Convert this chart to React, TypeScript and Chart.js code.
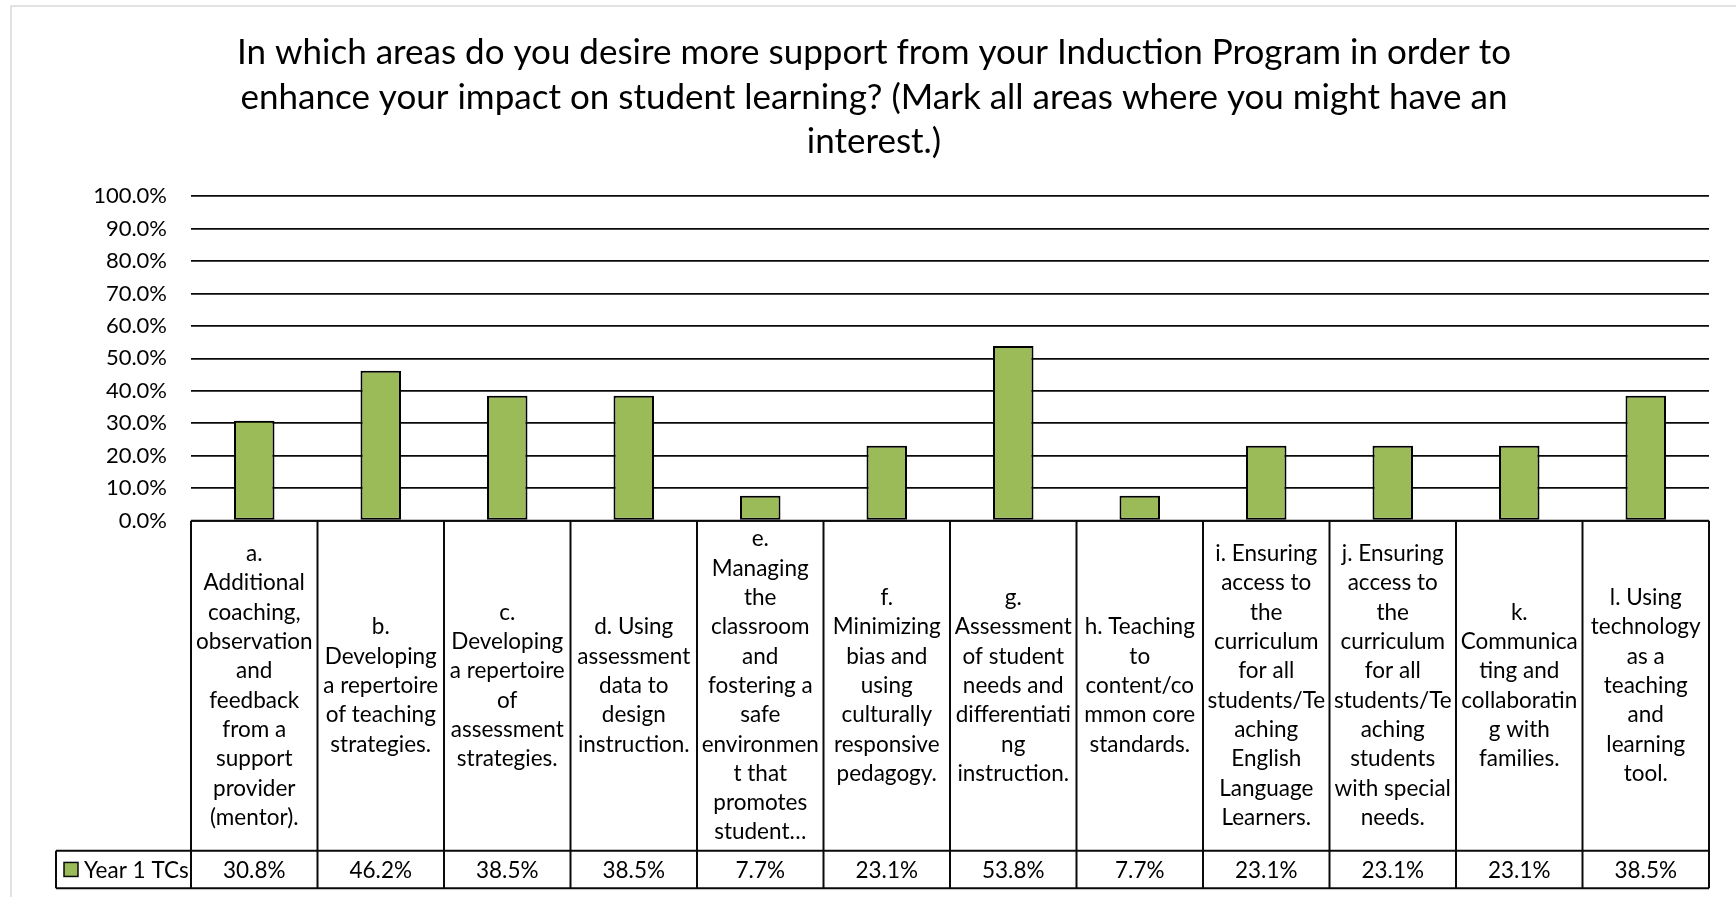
import React, { useEffect, useRef } from "react";
import { Chart, registerables } from "chart.js";

Chart.register(...registerables);

const TITLE_LINES = [
  "In which areas do you desire more support from your Induction Program in order to",
  "enhance your impact on student learning? (Mark all areas where you might have an",
  "interest.)",
];

const CATEGORY_LINES: string[][] = [
  ["a.", "Additional", "coaching,", "observation", "and", "feedback", "from a", "support", "provider", "(mentor)."],
  ["b.", "Developing", "a repertoire", "of teaching", "strategies."],
  ["c.", "Developing", "a repertoire", "of", "assessment", "strategies."],
  ["d. Using", "assessment", "data to", "design", "instruction."],
  ["e.", "Managing", "the", "classroom", "and", "fostering a", "safe", "environmen", "t that", "promotes", "student…"],
  ["f.", "Minimizing", "bias and", "using", "culturally", "responsive", "pedagogy."],
  ["g.", "Assessment", "of student", "needs and", "differentiati", "ng", "instruction."],
  ["h. Teaching", "to", "content/co", "mmon core", "standards."],
  ["i. Ensuring", "access to", "the", "curriculum", "for all", "students/Te", "aching", "English", "Language", "Learners."],
  ["j. Ensuring", "access to", "the", "curriculum", "for all", "students/Te", "aching", "students", "with special", "needs."],
  ["k.", "Communica", "ting and", "collaboratin", "g with", "families."],
  ["l. Using", "technology", "as a", "teaching", "and", "learning", "tool."],
];

const SERIES_NAME = "Year 1 TCs";
const SERIES_VALUES = [30.8, 46.2, 38.5, 38.5, 7.7, 23.1, 53.8, 7.7, 23.1, 23.1, 23.1, 38.5];

const Y_MIN = 0;
const Y_MAX = 100;
const Y_STEP = 10;

const W = 1736;
const H = 897;
const FONT = "Lato, 'Open Sans', sans-serif";
const BAR_COLOR = "#9BBB59";
const LINE_COLOR = "#0a0a0a";

const LABEL_ROW_H = 330;
const SERIES_ROW_H = 37.5;
const LEGEND_LEFT = 56;
const LABEL_LINE_H = 29.3;
const LABEL_FONT = `22.5px ${FONT}`;
const TITLE_FONT = `35px ${FONT}`;

const fmt = (v: number) => `${v.toFixed(1)}%`;

const tablePlugin = {
  id: "dataTable",
  beforeDraw(chart: any) {
    const ctx = chart.ctx;
    ctx.save();
    ctx.fillStyle = "#ffffff";
    ctx.fillRect(0, 0, W, H);
    ctx.strokeStyle = "#d9d9d9";
    ctx.lineWidth = 1.5;
    ctx.strokeRect(11, 6, W + 20, H + 20);
    // title
    ctx.fillStyle = "#000000";
    ctx.font = TITLE_FONT;
    ctx.textAlign = "center";
    ctx.textBaseline = "middle";
    TITLE_LINES.forEach((line, i) => ctx.fillText(line, 874, 53 + i * 44.5));
    ctx.restore();
  },
  afterDraw(chart: any) {
    const { ctx, chartArea } = chart;
    const xs = chart.scales.x;
    const n = CATEGORY_LINES.length;
    const step = xs.getPixelForValue(1) - xs.getPixelForValue(0);
    const top = chartArea.bottom;
    const rowMid = top + LABEL_ROW_H;
    const bottom = rowMid + SERIES_ROW_H;
    const left = xs.getPixelForValue(0) - step / 2;
    const right = xs.getPixelForValue(n - 1) + step / 2;

    ctx.save();
    ctx.strokeStyle = LINE_COLOR;
    ctx.lineWidth = 2;
    ctx.beginPath();
    for (let i = 0; i <= n; i++) {
      const x = left + i * step;
      ctx.moveTo(x, top);
      ctx.lineTo(x, bottom);
    }
    ctx.moveTo(LEGEND_LEFT, rowMid);
    ctx.lineTo(right, rowMid);
    ctx.moveTo(LEGEND_LEFT, bottom);
    ctx.lineTo(right, bottom);
    ctx.moveTo(LEGEND_LEFT, rowMid);
    ctx.lineTo(LEGEND_LEFT, bottom);
    ctx.moveTo(left, top);
    ctx.lineTo(right, top);
    ctx.stroke();

    ctx.fillStyle = "#000000";
    ctx.font = LABEL_FONT;
    ctx.textAlign = "center";
    ctx.textBaseline = "middle";
    const labelMid = top + LABEL_ROW_H / 2;
    CATEGORY_LINES.forEach((lines, i) => {
      const cx = xs.getPixelForValue(i);
      const y0 = labelMid - ((lines.length - 1) / 2) * LABEL_LINE_H;
      lines.forEach((ln, j) => ctx.fillText(ln, cx, y0 + j * LABEL_LINE_H));
    });

    const valMid = rowMid + SERIES_ROW_H / 2;
    SERIES_VALUES.forEach((v, i) => {
      ctx.fillText(fmt(v), xs.getPixelForValue(i), valMid + 1);
    });

    // legend key
    ctx.lineWidth = 1.5;
    ctx.fillStyle = BAR_COLOR;
    ctx.fillRect(64, valMid - 7, 14, 14);
    ctx.strokeRect(64, valMid - 7, 14, 14);
    ctx.fillStyle = "#000000";
    ctx.textAlign = "left";
    ctx.fillText(SERIES_NAME, 84, valMid + 1);
    ctx.restore();
  },
};

export default function App() {
  const ref = useRef<HTMLCanvasElement | null>(null);

  useEffect(() => {
    document.body.style.margin = "0";
    const canvas = ref.current;
    if (!canvas) return;
    const chart = new Chart(canvas, {
      type: "bar",
      data: {
        labels: CATEGORY_LINES.map((l) => l.join(" ")),
        datasets: [
          {
            label: SERIES_NAME,
            data: SERIES_VALUES,
            backgroundColor: BAR_COLOR,
            borderColor: "#000000",
            borderWidth: 2,
            borderSkipped: false,
            barPercentage: 0.32,
            categoryPercentage: 1,
          },
        ],
      },
      options: {
        animation: false,
        responsive: false,
        devicePixelRatio: 1,
        layout: { padding: { top: 196, left: 0, right: 27, bottom: H - 520.7 } },
        plugins: {
          legend: { display: false },
          title: { display: false },
          tooltip: { enabled: false },
        },
        scales: {
          x: {
            type: "category",
            grid: { display: false },
            border: { display: false },
            ticks: { display: false },
            afterFit: (s: any) => {
              s.height = 0;
            },
          },
          y: {
            min: Y_MIN,
            max: Y_MAX,
            ticks: {
              stepSize: Y_STEP,
              padding: 24,
              color: "#000000",
              font: { family: FONT, size: 22 },
              callback: (v: any) => fmt(Number(v)),
            },
            grid: { color: LINE_COLOR, lineWidth: 1.7, drawTicks: false },
            border: { display: false },
            afterFit: (s: any) => {
              s.width = 191;
            },
          },
        },
      },
      plugins: [tablePlugin],
    });
    return () => chart.destroy();
  }, []);

  return (
    <div style={{ position: "fixed", left: 0, top: 0, width: W, height: H, background: "#fff" }}>
      <canvas ref={ref} width={W} height={H} style={{ display: "block", width: W, height: H }} />
    </div>
  );
}
